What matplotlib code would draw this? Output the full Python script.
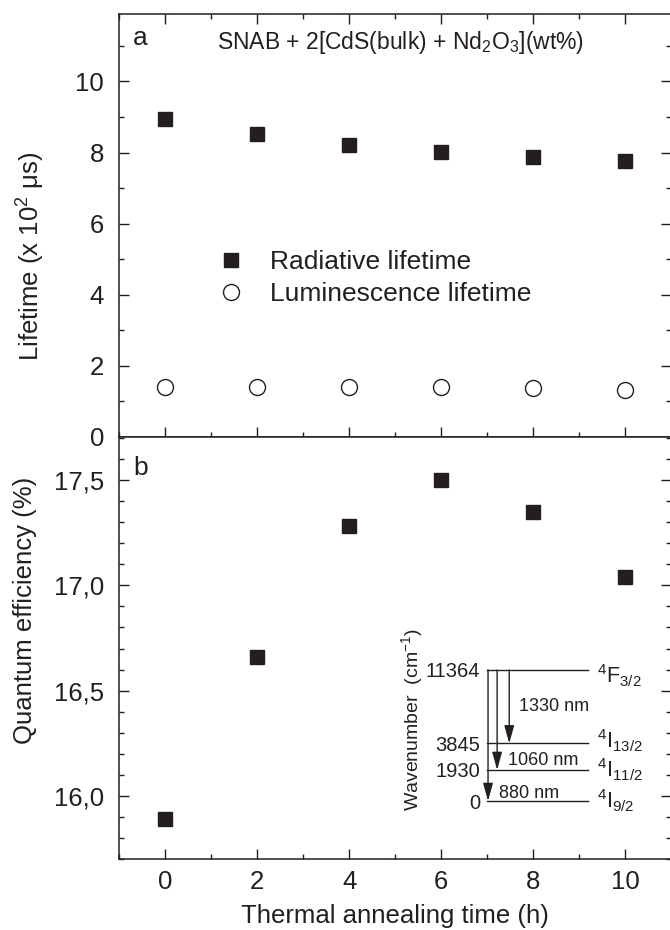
import numpy as np
import matplotlib
matplotlib.use("Agg")
import matplotlib.pyplot as plt
from matplotlib.ticker import MultipleLocator, FuncFormatter

plt.rcParams['font.family'] = ['Liberation Sans', 'DejaVu Sans']
plt.rcParams['mathtext.fontset'] = 'custom'
plt.rcParams['mathtext.rm'] = 'Liberation Sans'
plt.rcParams['mathtext.it'] = 'Liberation Sans:italic'
plt.rcParams['mathtext.bf'] = 'Liberation Sans:bold'

ink = '#231f20'

# datos
tiempo = [0, 2, 4, 6, 8, 10]
radiativo = [8.93, 8.51, 8.20, 8.01, 7.87, 7.75]
luminiscencia = [1.41, 1.41, 1.41, 1.40, 1.36, 1.31]
eficiencia = [15.89, 16.66, 17.28, 17.50, 17.35, 17.04]

# diagrama de niveles (inset)
niveles = [0, 1930, 3845, 11364]
nombres = ['$^4$I$_{9/2}$', '$^4$I$_{11/2}$', '$^4$I$_{13/2}$', '$^4$F$_{3/2}$']
transiciones = ['880 nm', '1060 nm', '1330 nm']

fig = plt.figure(figsize=(6.7, 9.3), dpi=100)
ax1 = fig.add_axes([0.178, 0.5304, 0.824, 0.4546])
ax2 = fig.add_axes([0.178, 0.0763, 0.824, 0.4541])

# ---- panel a
ax1.plot(tiempo, radiativo, 's', color=ink, ms=10.5, ls='none', label='Radiative lifetime')
ax1.plot(tiempo, luminiscencia, 'o', mfc='white', mec=ink, mew=1.0, ms=11.5, ls='none',
         label='Luminescence lifetime')
ax1.set_xlim(-1, 11)
ax1.set_ylim(0, 11.9)
ax1.yaxis.set_major_locator(MultipleLocator(2))
ax1.yaxis.set_minor_locator(MultipleLocator(1))
ax1.set_ylabel('Lifetime (x 10$^2$ μs)', fontsize=18.5, va='center', color=ink)
ax1.yaxis.set_label_coords(-0.16, 0.4275)
ax1.tick_params(labelbottom=False)
ax1.text(0.025, 0.9267, 'a', transform=ax1.transAxes, fontsize=19, color=ink)
ax1.text(0.177, 0.918, 'SNAB + 2[CdS(bulk) + Nd$_2$O$_3$](wt%)', transform=ax1.transAxes,
         fontsize=16.5, color=ink)
ax1.legend(frameon=False, loc='center left', bbox_to_anchor=(0.178, 0.3746),
           fontsize=19, handlelength=1.0, handletextpad=0.99, labelspacing=0.30,
           borderpad=0, borderaxespad=0, labelcolor=ink)

# ---- panel b
ax2.plot(tiempo, eficiencia, 's', color=ink, ms=10.5, ls='none')
ax2.set_xlim(-1, 11)
ax2.set_ylim(15.7, 17.706)
ax2.yaxis.set_major_locator(MultipleLocator(0.5))
ax2.yaxis.set_minor_locator(MultipleLocator(0.1))
ax2.yaxis.set_major_formatter(FuncFormatter(lambda v, p: f'{v:.1f}'.replace('.', ',')))
ax2.set_ylabel('Quantum efficiency (%)', fontsize=18.5, va='center', color=ink)
ax2.yaxis.set_label_coords(-0.171, 0.59)
ax2.set_xlabel('Thermal annealing time (h)', fontsize=18.5, color=ink, labelpad=7)
ax2.text(0.025, 0.909, 'b', transform=ax2.transAxes, fontsize=19, color=ink)

for ax in (ax1, ax2):
    ax.xaxis.set_major_locator(MultipleLocator(2))
    ax.xaxis.set_minor_locator(MultipleLocator(1))
    ax.tick_params(which='both', direction='in', top=(ax is ax1), right=True,
                   color=ink, width=1.0, labelsize=18.5, labelcolor=ink)
    ax.tick_params(which='major', length=7.5, pad=8)
    ax.tick_params(axis='y', which='major', pad=11)
    ax.tick_params(which='minor', length=3.8)
    for s in ax.spines.values():
        s.set_linewidth(1.1)
        s.set_color(ink)

# ---- inset: diagrama de niveles de energia
axi = fig.add_axes([0.7269, 0.1387, 0.1507, 0.1409])
axi.set_xlim(0, 1)
axi.set_ylim(0, 1)
pos = [0.0, 0.237, 0.440, 1.0]   # posiciones esquematicas (no a escala)
for p in pos:
    axi.plot([0, 1], [p, p], color=ink, lw=1.0, clip_on=False)
for sp in axi.spines.values():
    sp.set_visible(False)
axi.set_xticks([])
axi.set_yticks(pos)
axi.set_yticklabels([str(n) for n in niveles])
axi.tick_params(axis='y', length=0, pad=5, labelsize=14.5, labelcolor=ink)
axi.set_ylabel('Wavenumber  (cm$^{-1}$)', fontsize=14, va='center', color=ink)
axi.yaxis.set_label_coords(-0.74, 0.62)
axi.patch.set_alpha(0)

flecha_x = [0.01, 0.10, 0.22]
destino = [pos[0], pos[1], pos[2]]
for fx, fy in zip(flecha_x, destino):
    axi.annotate('', xy=(fx, fy), xytext=(fx, 1.0),
                 arrowprops=dict(arrowstyle='-|>,head_length=0.9,head_width=0.25',
                                 color=ink, lw=1.0, shrinkA=0, shrinkB=0,
                                 mutation_scale=12), annotation_clip=False)
axi.text(0.12, 0.06, transiciones[0], fontsize=13, va='center', color=ink)
axi.text(0.21, 0.31, transiciones[1], fontsize=13, va='center', color=ink)
axi.text(0.32, 0.72, transiciones[2], fontsize=13, va='center', color=ink)

etiqueta_y = [-0.053, 0.183, 0.405, 0.90]
for nom, ly in zip(nombres, etiqueta_y):
    axi.text(1.09, ly, nom, fontsize=15.5, va='baseline', color=ink, clip_on=False)

fig.savefig('out.png', dpi=100)
